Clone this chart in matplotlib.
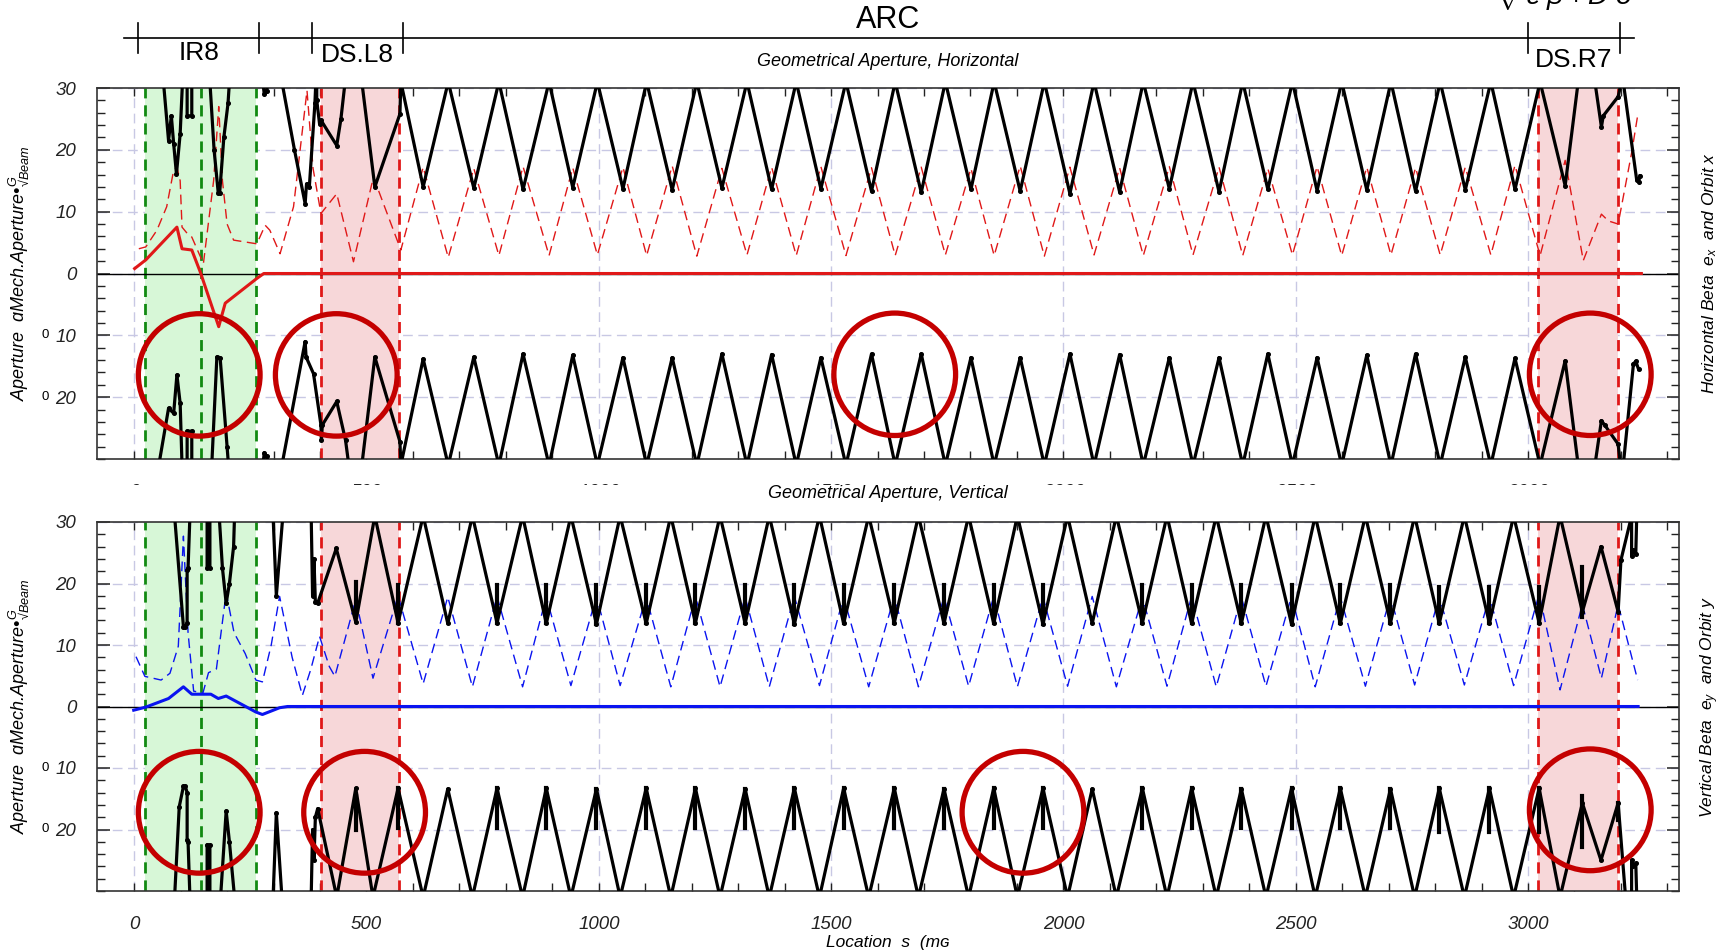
import matplotlib
matplotlib.use("Agg")
import matplotlib.pyplot as plt
import matplotlib.transforms as mtransforms
from matplotlib.patches import Ellipse, Rectangle
from matplotlib.lines import Line2D

plt.rcParams["font.family"] = ["Liberation Sans", "DejaVu Sans"]
plt.rcParams["mathtext.fontset"] = "custom"
plt.rcParams["mathtext.rm"] = "Liberation Sans"
plt.rcParams["mathtext.it"] = "Liberation Sans:italic"

# ---------------- data: location s (m) and normalised aperture / beta / orbit ----------------
OUT = 31  # value used for parts of the aperture that leave the plotted range

# horizontal plane, arc cells
h_min_s = [622, 731, 837, 944, 1052, 1158, 1265, 1372, 1478, 1587, 1694, 1801,
           1907, 2014, 2121, 2228, 2335, 2440, 2546, 2653, 2758, 2865, 2972, 3080]
h_peak_s = [574, 676, 785, 893, 997, 1103, 1211, 1319, 1425, 1532, 1638, 1746,
            1851, 1959, 2066, 2172, 2279, 2386, 2493, 2599, 2705, 2811, 2920, 3026]
h_ap_min = [14.0, 13.8, 13.6, 13.9, 13.7, 13.5, 13.8, 13.6, 13.7, 13.3, 13.1, 13.6,
            13.3, 12.9, 13.2, 13.7, 13.2, 13.6, 13.4, 13.5, 13.3, 13.5, 13.6, 14.2]
h_ap_lo_max = [-13.8, -13.5, -13.0, -13.2, -13.6, -13.6, -13.0, -13.1, -13.6, -13.0, -13.0, -13.6,
               -13.6, -13.0, -13.1, -13.6, -13.6, -13.0, -13.6, -13.2, -13.0, -13.5, -13.7, -14.1]
h_beta_max = [17.2, 17.0, 17.3, 17.1, 17.2, 17.4, 17.0, 17.2, 17.3, 17.1, 17.2, 17.0,
              17.4, 17.2, 17.1, 17.3, 17.2, 17.0, 17.3, 17.2, 17.1, 17.2, 17.5, 18.3]
h_beta_min = [3.8, 2.6, 2.9, 2.9, 3.0, 2.9, 2.8, 3.0, 2.9, 2.9, 2.9, 3.0,
              2.9, 2.8, 3.0, 2.9, 3.0, 2.9, 3.0, 2.9, 3.0, 3.0, 3.0, 2.9]

# horizontal plane, IR8 / DS.L8 and DS.R7 parts
h_up_pre_s = [63, 74, 80, 85, 91, 99, 104, 114, 114, 124, 124, 163, 172, 181, 184, 193, 202, 205,
              277, 280, 285, 288, 318, 345, 368, 371, 377, 389, 391, 393, 393, 399, 402,
              436, 445, 454, 490, 518, 572]
h_up_pre = [OUT, 21.5, 25.5, 21.0, 16.1, 22.6, OUT, OUT, 25.5, 25.5, OUT, OUT, 20.0, 13.0, 13.0, 22.0, 27.5, OUT,
            OUT, 29.0, 29.5, OUT, OUT, 20.0, 11.3, 14.5, 14.0, 27.5, OUT, OUT, 28.0, 24.2, 24.8,
            20.7, 25.0, OUT, OUT, 14.0, 25.8]
h_lo_pre_s = [53, 74, 85, 92, 99, 103, 114, 114, 124, 124, 167, 178, 185, 200, 203,
              277, 280, 285, 288, 318, 368, 370, 386, 402, 403, 405, 436, 455, 462, 490, 518, 572]
h_lo_pre = [-OUT, -21.8, -22.6, -16.4, -21.0, -OUT, -OUT, -25.5, -25.5, -OUT, -OUT, -13.5, -13.6, -28.0, -OUT,
            -OUT, -29.0, -29.5, -OUT, -OUT, -11.0, -13.5, -16.2, -24.5, -27.0, -24.5, -20.7, -27.0, -OUT,
            -OUT, -13.5, -27.2]
h_up_post_s = [3108, 3144, 3158, 3162, 3194, 3201, 3205, 3234, 3238, 3241]
h_up_post = [OUT, OUT, 23.7, 25.5, 28.6, OUT, OUT, 15.1, 14.8, 15.8]
h_lo_post_s = [3108, 3144, 3158, 3165, 3194, 3199, 3205, 3227, 3232, 3238]
h_lo_post = [-OUT, -OUT, -23.8, -24.5, -27.6, -OUT, -OUT, -14.6, -14.2, -15.5]
h_beta_pre_s = [10, 25, 49, 70, 85, 92, 99, 103, 114, 124, 149, 171, 182, 190, 200, 214, 264,
                282, 292, 314, 343, 372, 385, 402, 436, 472, 515]
h_beta_pre = [4.0, 4.3, 7.0, 10.8, 16.7, 17.2, 15.0, 7.5, 6.5, 5.9, 1.6, 15.0, 27.0, 15.0, 8.0, 5.4, 4.8,
              7.8, 7.0, 3.2, 10.8, 29.6, 17.0, 9.7, 12.9, 1.9, 15.6]
h_beta_post_s = [3119, 3158, 3173, 3194, 3223, 3237]
h_beta_post = [2.1, 9.6, 8.5, 8.0, 19.5, 26.0]
h_orbit_s = [1, 25, 92, 103, 124, 142, 182, 196, 264, 279, 3244]
h_orbit = [0.8, 2.2, 7.5, 4.0, 3.8, 0.3, -8.6, -4.8, -0.8, 0.0, 0.0]

# vertical plane, arc cells
v_min_s = [568, 675, 781, 887, 995, 1102, 1208, 1315, 1421, 1527, 1636, 1743,
           1850, 1956, 2062, 2170, 2276, 2383, 2491, 2596, 2704, 2809, 2917, 3024]
v_peak_s = [622, 728, 836, 940, 1046, 1155, 1261, 1367, 1475, 1581, 1688, 1796,
            1901, 2009, 2114, 2223, 2329, 2436, 2542, 2650, 2756, 2863, 2969, 3069]
v_ap_min = [13.6, 13.5, 13.6, 13.5, 13.4, 13.5, 13.6, 13.5, 13.4, 13.5, 13.6, 13.5,
            13.5, 13.4, 13.5, 13.6, 13.5, 13.5, 13.4, 13.5, 13.6, 13.5, 13.5, 13.6]
v_ap_lo_max = [-13.3, -13.4, -13.3, -13.3, -13.4, -13.3, -13.3, -13.4, -13.3, -13.3, -13.3, -13.4,
               -13.3, -13.3, -13.4, -13.3, -13.3, -13.4, -13.3, -13.3, -13.4, -13.3, -13.3, -13.3]
v_beta_max = [18.0, 17.8, 17.9, 17.8, 17.9, 17.8, 17.9, 17.8, 17.9, 17.8, 17.9, 17.8,
              17.9, 17.8, 17.9, 17.8, 17.9, 17.8, 17.9, 17.8, 17.9, 17.9, 17.9, 18.3]
v_beta_min = [3.7, 3.2, 3.2, 3.4, 3.4, 3.2, 3.2, 3.2, 3.4, 3.2, 3.2, 3.3,
              3.2, 3.3, 3.2, 3.3, 3.2, 3.3, 3.2, 3.3, 3.5, 3.5, 3.4, 2.7]

v_up_pre_s = [87, 106, 110, 114, 114, 116, 120, 157, 157, 163, 163, 183, 190, 198, 205, 214, 216,
              299, 306, 320, 381, 384, 387, 390, 395, 435, 477, 518]
v_up_pre = [OUT, 13.0, 13.0, 13.5, 22.2, 22.5, OUT, OUT, 22.5, 22.5, OUT, OUT, 22.5, 16.8, 20.0, 26.0, OUT,
            OUT, 18.0, OUT, OUT, 18.0, 24.0, 17.0, 16.8, 25.7, 13.7, OUT]
v_lo_pre_s = [87, 97, 106, 110, 114, 114, 116, 120, 157, 157, 163, 163, 186, 198, 205, 216,
              299, 306, 318, 381, 384, 387, 390, 395, 436, 477, 514]
v_lo_pre = [-OUT, -16.3, -13.0, -13.0, -14.0, -21.7, -22.0, -OUT, -OUT, -22.5, -22.5, -OUT, -OUT, -17.0, -22.0, -OUT,
            -OUT, -17.3, -OUT, -OUT, -20.0, -25.0, -18.0, -16.6, -OUT, -13.3, -OUT]
v_up_post_s = [3117, 3157, 3194, 3200, 3223, 3223, 3226, 3232, 3234]
v_up_post = [15.4, 26.0, 15.4, 23.8, OUT, 24.5, 25.5, 24.8, OUT]
v_lo_post_s = [3117, 3157, 3194, 3210, 3223, 3223, 3226, 3232, 3234]
v_lo_post = [-15.7, -25.0, -15.7, -OUT, -OUT, -25.0, -26.0, -25.5, -OUT]
v_beta_pre_s = [4, 23, 58, 77, 95, 106, 116, 128, 148, 160, 177, 198, 215, 239, 262, 276, 295, 313,
                340, 362, 380, 399, 420, 432, 477, 514]
v_beta_pre = [8.1, 4.9, 4.3, 5.4, 9.8, 27.7, 12.0, 2.5, 2.2, 5.5, 6.1, 18.5, 12.0, 8.6, 4.3, 4.0, 10.0, 17.9,
              8.0, 1.8, 6.0, 11.4, 6.5, 4.9, 17.4, 4.6]
v_beta_post_s = [3117, 3158, 3194, 3236]
v_beta_post = [16.6, 4.6, 16.6, 4.3]
v_orbit_s = [-1, 25, 74, 106, 124, 165, 181, 198, 262, 276, 313, 330, 3237]
v_orbit = [-0.6, -0.1, 1.3, 3.2, 2.0, 2.0, 1.3, 1.7, -0.9, -1.3, -0.2, 0.0, 0.0]

# short vertical aperture steps in the vertical plane
v_spike_s = [477, 568, 781, 887, 995, 1102, 1208, 1315, 1421, 1527, 1636, 1743,
             1850, 1956, 2170, 2276, 2383, 2491, 2596, 2704, 2809, 2917, 3024, 3117]
v_spike_top = [20.3, 19.8, 19.8, 19.8, 19.8, 19.8, 19.8, 19.8, 19.8, 19.8, 19.8, 19.8,
               19.8, 19.8, 19.8, 19.8, 19.8, 19.8, 19.8, 19.8, 19.5, 19.5, 19.5, 22.7]
v_spike_bot = [-20.0, -19.8, -19.8, -19.8, -19.8, -19.8, -19.8, -19.8, -19.8, -19.8, -19.8, -19.8,
               -19.8, -19.8, -19.8, -19.8, -19.8, -19.8, -19.8, -19.8, -20.4, -20.4, -20.4, -22.8]

# sections and marked regions
section_edges = [9, 269, 383, 579, 2999, 3197]
ir_band = (24, 262)
ir_lines = [24, 143, 262]
ds_bands = [(402, 571), (3022, 3194)]
h_circle_s = [140, 435, 1637, 3134]
h_circle_y = [-16.4, -16.4, -16.3, -16.3]
v_circle_s = [140, 496, 1913, 3134]
v_circle_y = [-17.2, -17.2, -17.2, -16.8]


def arc_merge(a_s, a_v, b_s, b_v):
    pts = sorted(list(zip(a_s, a_v)) + list(zip(b_s, b_v)))
    return [p[0] for p in pts], [p[1] for p in pts]


n = len(h_peak_s)
arc_s, arc_v = arc_merge(h_peak_s, [OUT] * n, h_min_s, h_ap_min)
h_up_s, h_up = h_up_pre_s + arc_s + h_up_post_s, h_up_pre + arc_v + h_up_post
arc_s, arc_v = arc_merge(h_peak_s, [-OUT] * n, h_min_s, h_ap_lo_max)
h_lo_s, h_lo = h_lo_pre_s + arc_s + h_lo_post_s, h_lo_pre + arc_v + h_lo_post
arc_s, arc_v = arc_merge(h_peak_s, h_beta_min, h_min_s, h_beta_max)
h_beta_s, h_beta = h_beta_pre_s + arc_s + h_beta_post_s, h_beta_pre + arc_v + h_beta_post

n = len(v_peak_s)
arc_s, arc_v = arc_merge(v_peak_s, [OUT] * n, v_min_s, v_ap_min)
v_up_s, v_up = v_up_pre_s + arc_s + v_up_post_s, v_up_pre + arc_v + v_up_post
arc_s, arc_v = arc_merge(v_peak_s, [-OUT] * n, v_min_s, v_ap_lo_max)
v_lo_s, v_lo = v_lo_pre_s + arc_s + v_lo_post_s, v_lo_pre + arc_v + v_lo_post
arc_s, arc_v = arc_merge(v_peak_s, v_beta_min, v_min_s, v_beta_max)
v_beta_s, v_beta = v_beta_pre_s + arc_s + v_beta_post_s, v_beta_pre + arc_v + v_beta_post

# ---------------- figure ----------------
W, H = 1730, 952
fig = plt.figure(figsize=(W / 100, H / 100), dpi=100)


def fbox(l, t, r, b):
    return [l / W, 1 - b / H, (r - l) / W, (b - t) / H]


ax_h = fig.add_axes(fbox(97, 88, 1679, 459))
ax_v = fig.add_axes(fbox(97, 522, 1679, 891))

GRID = "#c8c8e4"
RED = "#e01818"
GREEN = "#118a11"


def draw_panel(ax, up_s, up, lo_s, lo, beta_s, beta, orb_s, orb, col, circ_s, circ_y):
    ax.set_xlim(-80, 3325)
    ax.set_ylim(-30, 30)
    ax.axvspan(*ir_band, color="#d7f7d7", lw=0, zorder=0.8)
    for a, b in ds_bands:
        ax.axvspan(a, b, color="#f7d7d9", lw=0, zorder=0.8)
    for x in ir_lines:
        ax.axvline(x, color=GREEN, lw=2.0, ls=(0, (4, 2.5)), zorder=1)
    for a, b in ds_bands:
        for x in (a, b):
            ax.axvline(x, color=RED, lw=2.0, ls=(0, (4, 2.5)), zorder=1)
    ax.axhline(0, color="black", lw=1.0, zorder=1.2)

    ax.plot(beta_s, beta, color=col, lw=1.0, ls=(0, (7, 4)), zorder=2)
    ax.plot(orb_s, orb, color=col, lw=2.2, zorder=2.5)
    ax.plot(up_s, up, color="black", lw=2.3, marker="o", ms=2.6, zorder=3)
    ax.plot(lo_s, lo, color="black", lw=2.3, marker="o", ms=2.6, zorder=3)

    for cs, cy in zip(circ_s, circ_y):
        ax.add_patch(Ellipse((cs, cy), 262, 19.8, fill=False, ec="#c40000", lw=3.8,
                             zorder=4, clip_on=False))

    ax.set_xticks(range(0, 3001, 500))
    ax.set_xticks(range(0, 3301, 100), minor=True)
    ax.set_yticks([-20, -10, 0, 10, 20, 30])
    ax.set_yticklabels(["20", "10", "0", "10", "20", "30"])
    ax.set_yticks(range(-30, 31, 2), minor=True)
    ax.tick_params(which="both", direction="in", top=True, right=True, colors="#222222",
                   labelsize=13.5)
    ax.tick_params(axis="y", which="both", pad=15)
    ax.tick_params(axis="x", which="both", pad=18)
    ax.tick_params(axis="y", which="major", length=9, width=1.1)
    ax.tick_params(axis="y", which="minor", length=6, width=1.0)
    ax.tick_params(axis="x", which="both", length=6, width=1.0)
    for lab in ax.get_xticklabels() + ax.get_yticklabels():
        lab.set_fontstyle("italic")
    ax.grid(True, which="major", color=GRID, ls=(0, (7, 4)), lw=1.0)
    ax.set_axisbelow(True)
    for sp in ax.spines.values():
        sp.set_color("#333333")
        sp.set_linewidth(1.2)
    trans = mtransforms.blended_transform_factory(ax.transAxes, ax.transData)
    for yv in (-10, -20):
        ax.text(-0.033, yv, "0", transform=trans, fontsize=9.5, ha="center", va="center")
    ax.text(-0.049, 0.5, "Aperture  \u0251Mech.Aperture\u2022$_{\u221a Beam}^{G}$",
            transform=ax.transAxes, rotation=90, fontsize=13, fontstyle="italic",
            ha="center", va="center")


draw_panel(ax_h, h_up_s, h_up, h_lo_s, h_lo, h_beta_s, h_beta, h_orbit_s, h_orbit, RED,
           h_circle_s, h_circle_y)
draw_panel(ax_v, v_up_s, v_up, v_lo_s, v_lo, v_beta_s, v_beta, v_orbit_s, v_orbit, "#0a14f0",
           v_circle_s, v_circle_y)

v_lo_max_at = dict(zip(v_min_s, v_ap_lo_max))
v_up_min_at = dict(zip(v_min_s, v_ap_min))
for s, top, bot in zip(v_spike_s, v_spike_top, v_spike_bot):
    ax_v.plot([s, s], [v_up_min_at.get(s, 14.5), top], color="black", lw=3.0, zorder=3)
    ax_v.plot([s, s], [v_lo_max_at.get(s, -14.5), bot], color="black", lw=3.0, zorder=3)
ax_v.plot([3194, 3194], [-15.7, -18.5], color="black", lw=3.0, zorder=3)

ax_h.text(1.0196, 0.5, "Horizontal Beta  $\\mathregular{e_x}$  and Orbit x", transform=ax_h.transAxes,
          rotation=90, fontsize=12.5, fontstyle="italic", ha="center", va="center")
ax_v.text(1.0196, 0.5, "Vertical Beta  $\\mathregular{e_y}$  and Orbit y", transform=ax_v.transAxes,
          rotation=90, fontsize=12.5, fontstyle="italic", ha="center", va="center")

# hide most of the top panel's s labels, as in the source figure
fig.add_artist(Rectangle((90 / W, 1 - 516 / H), (1690 - 90) / W, (516 - 485) / H,
                         transform=fig.transFigure, fc="white", ec="none", zorder=5))

fig.text(888 / W, 1 - 61 / H, "Geometrical Aperture, Horizontal", fontsize=13, fontstyle="italic",
         ha="center", va="center", zorder=6)
fig.text(888 / W, 1 - 493 / H, "Geometrical Aperture, Vertical", fontsize=13, fontstyle="italic",
         ha="center", va="center", zorder=6)
fig.text(888 / W, 1 - 943 / H, "Location  s  (m\u0262", fontsize=12.5, fontstyle="italic",
         ha="center", va="center", zorder=6)

# section bar above the plots
bar = mtransforms.blended_transform_factory(ax_h.transData, fig.transFigure)
fig.add_artist(Line2D([-22, 3229], [1 - 38 / H, 1 - 38 / H], transform=bar, color="black", lw=1.2))
for e in section_edges:
    fig.add_artist(Line2D([e, e], [1 - 23 / H, 1 - 53 / H], transform=bar, color="black", lw=1.2))
fig.text(139, 1 - 53 / H, "IR8", transform=bar, fontsize=19, ha="center", va="center")
fig.text(481, 1 - 55 / H, "DS.L8", transform=bar, fontsize=19, ha="center", va="center")
fig.text(3098, 1 - 60 / H, "DS.R7", transform=bar, fontsize=19, ha="center", va="center")
fig.text(888 / W, 1 - 20 / H, "ARC", fontsize=22, ha="center", va="center")
fig.text(1565 / W, 1 - 5 / H, "$\\sqrt{\\epsilon\\ \\beta + D\\ \\delta}$", fontsize=20,
         ha="center", va="baseline")

fig.savefig("out.png", dpi=100)
